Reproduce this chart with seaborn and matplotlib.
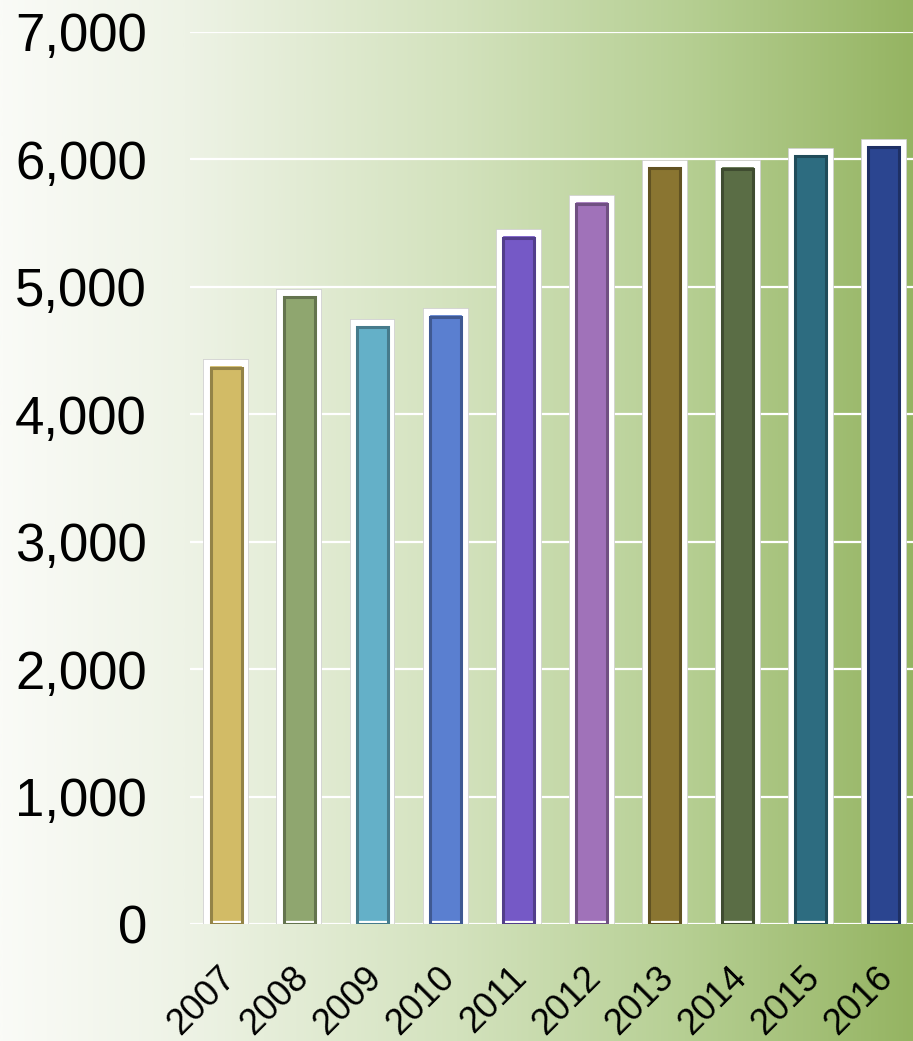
import numpy as np
import pandas as pd
import matplotlib
matplotlib.use("Agg")
import matplotlib.pyplot as plt
import matplotlib.transforms as mtransforms
import seaborn as sns
from matplotlib.colors import LinearSegmentedColormap, to_rgb

# datos
years = ["2007", "2008", "2009", "2010", "2011", "2012", "2013", "2014", "2015", "2016"]
values = [4400, 4950, 4715, 4800, 5420, 5685, 5965, 5960, 6060, 6130]
bar_colors = ["#d2bb66", "#8fa66f", "#64b0c8", "#5a7fd0", "#7559c6", "#a072b9",
              "#8a7531", "#5a6d45", "#2d6c80", "#2b4590"]
yticks = [0, 1000, 2000, 3000, 4000, 5000, 6000, 7000]

df = pd.DataFrame({"year": years, "value": values})

sns.set_theme(style="white")
plt.rcParams["font.family"] = ["Liberation Sans", "DejaVu Sans"]

fig = plt.figure(figsize=(9.13, 10.41), dpi=100)

# fondo con degradado horizontal
bg = fig.add_axes([0, 0, 1, 1], zorder=0)
grad_cmap = LinearSegmentedColormap.from_list(
    "fondo",
    [(0.0, "#fafbf7"), (0.2, "#eef3e6"), (0.5, "#d3e2bd"),
     (0.75, "#b6cf93"), (1.0, "#95b462")])
bg.imshow(np.linspace(0, 1, 512).reshape(1, -1), aspect="auto", cmap=grad_cmap,
          extent=[0, 1, 0, 1])
bg.set_axis_off()

ax = fig.add_axes([0.208, 0.1124, 0.792, 0.857], zorder=1)
ax.patch.set_alpha(0)

# sombra gris, borde blanco y barra coloreada
sns.barplot(data=df, x="year", y="value", hue="year", palette=bar_colors,
            saturation=1, width=0.52, legend=False, ax=ax,
            edgecolor="#cfcfcf", linewidth=5.6, zorder=3)
sns.barplot(data=df, x="year", y="value", hue="year", palette=bar_colors,
            saturation=1, width=0.52, legend=False, ax=ax,
            edgecolor="white", linewidth=4.5, zorder=4)
# marco interior oscuro (biselado)
darker = [tuple(c * 0.7 for c in to_rgb(col)) for col in bar_colors]
sns.barplot(data=df, x="year", y="value", hue="year", palette=bar_colors,
            saturation=1, width=0.425, legend=False, ax=ax, zorder=5, linewidth=0)
inset = 4.3 * 7000 / 892  # unos píxeles por debajo del borde blanco
for p, col in zip(ax.patches[-len(years):], darker):
    p.set_facecolor("none")
    p.set_edgecolor(col)
    p.set_linewidth(2.2)
    p.set_height(p.get_height() - inset)

ax.set_ylim(0, 7000)
ax.set_xlim(-0.5, 9.4)
ax.set_yticks(yticks)
ax.set_yticklabels([f"{v:,}" for v in yticks], fontsize=38, color="black")
ax.yaxis.grid(True, color="white", linewidth=1.6, zorder=1)
ax.set_axisbelow(True)
ax.tick_params(axis="y", length=0, pad=31)
ax.tick_params(axis="x", length=0, pad=26)
shift = mtransforms.ScaledTranslation(-0.09, 0, fig.dpi_scale_trans)
for lbl in ax.get_xticklabels():
    lbl.set_rotation(45)
    lbl.set_ha("right")
    lbl.set_va("top")
    lbl.set_rotation_mode("anchor")
    lbl.set_fontsize(26)
    lbl.set_color("black")
    lbl.set_transform(lbl.get_transform() + shift)
ax.set_xlabel("")
ax.set_ylabel("")
for s in ax.spines.values():
    s.set_visible(False)

fig.savefig("out.png", dpi=100)
